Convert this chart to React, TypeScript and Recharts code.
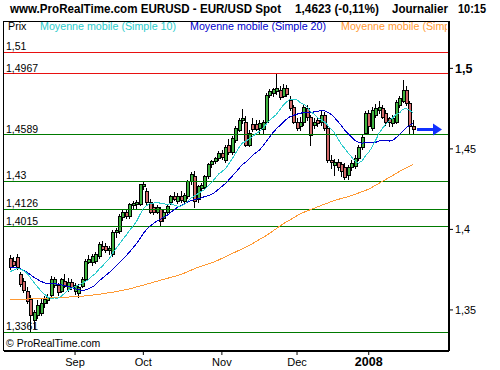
import { ComposedChart, Bar, Line, XAxis, YAxis, ReferenceLine, ReferenceDot } from 'recharts';

const FONT = '"Liberation Sans", Arial, sans-serif';

// closes before the first visible candle (only used to seed the moving averages)
const priorCloses = [
  1.3770, 1.3790, 1.3780, 1.3800, 1.3810, 1.3790, 1.3780, 1.3800, 1.3770, 1.3750,
  1.3690, 1.3660, 1.3700, 1.3720, 1.3740, 1.3760, 1.3770, 1.3790, 1.3785,
];

const opens = [
  1.3823, 1.3805, 1.3830, 1.3725, 1.3678, 1.3620, 1.3565, 1.3440, 1.3470, 1.3480,
  1.3540, 1.3560, 1.3590, 1.3655, 1.3655, 1.3620, 1.3680, 1.3630, 1.3675, 1.3620,
  1.3605, 1.3650, 1.3693, 1.3800, 1.3800, 1.3805, 1.3835, 1.3897, 1.3895, 1.3870,
  1.3847, 1.3983, 1.3990, 1.4076, 1.4107, 1.4082, 1.4150, 1.4160, 1.4156, 1.4270,
  1.4236, 1.4169, 1.4140, 1.4110, 1.4125, 1.4070, 1.4107, 1.4169, 1.4206, 1.4175,
  1.4210, 1.4174, 1.4206, 1.4298, 1.4329, 1.4187, 1.4260, 1.4261, 1.4329, 1.4403,
  1.4422, 1.4446, 1.4477, 1.4434, 1.4527, 1.4483, 1.4557, 1.4619, 1.4681, 1.4668,
  1.4527, 1.4656, 1.4656, 1.4631, 1.4625, 1.4668, 1.4835, 1.4850, 1.4860, 1.4866,
  1.4830, 1.4880, 1.4804, 1.4761, 1.4668, 1.4640, 1.4668, 1.4755, 1.4699, 1.4650,
  1.4680, 1.4668, 1.4712, 1.4631, 1.4434, 1.4400, 1.4420, 1.4403, 1.4390, 1.4340,
  1.4390, 1.4391, 1.4446, 1.4514, 1.4601, 1.4724, 1.4631, 1.4712, 1.4740, 1.4755,
  1.4724, 1.4690, 1.4660, 1.4668, 1.4773, 1.4800, 1.4866, 1.4786, 1.4640,
];

const highs = [
  1.3840, 1.3828, 1.3846, 1.3738, 1.3700, 1.3640, 1.3590, 1.3500, 1.3560, 1.3570,
  1.3585, 1.3600, 1.3710, 1.3705, 1.3665, 1.3700, 1.3720, 1.3700, 1.3690, 1.3670,
  1.3660, 1.3705, 1.3815, 1.3840, 1.3850, 1.3860, 1.3920, 1.3925, 1.3915, 1.3900,
  1.3995, 1.4010, 1.4095, 1.4120, 1.4125, 1.4165, 1.4175, 1.4185, 1.4285, 1.4300,
  1.4260, 1.4190, 1.4160, 1.4150, 1.4140, 1.4125, 1.4160, 1.4215, 1.4230, 1.4225,
  1.4240, 1.4225, 1.4305, 1.4355, 1.4360, 1.4275, 1.4290, 1.4340, 1.4410, 1.4430,
  1.4450, 1.4485, 1.4490, 1.4525, 1.4560, 1.4580, 1.4640, 1.4690, 1.4745, 1.4705,
  1.4615, 1.4690, 1.4680, 1.4680, 1.4680, 1.4845, 1.4870, 1.4880, 1.4967, 1.4890,
  1.4900, 1.4895, 1.4830, 1.4775, 1.4690, 1.4700, 1.4780, 1.4770, 1.4710, 1.4690,
  1.4700, 1.4735, 1.4730, 1.4650, 1.4460, 1.4440, 1.4440, 1.4420, 1.4410, 1.4400,
  1.4430, 1.4460, 1.4525, 1.4590, 1.4735, 1.4740, 1.4760, 1.4780, 1.4800, 1.4775,
  1.4740, 1.4700, 1.4710, 1.4805, 1.4830, 1.4925, 1.4890, 1.4800, 1.4680,
];

const lows = [
  1.3752, 1.3765, 1.3755, 1.3650, 1.3610, 1.3545, 1.3361, 1.3390, 1.3450, 1.3470,
  1.3520, 1.3540, 1.3580, 1.3640, 1.3595, 1.3610, 1.3640, 1.3620, 1.3630, 1.3600,
  1.3580, 1.3640, 1.3685, 1.3790, 1.3780, 1.3790, 1.3820, 1.3870, 1.3860, 1.3850,
  1.3835, 1.3950, 1.3980, 1.4060, 1.4070, 1.4070, 1.4130, 1.4135, 1.4150, 1.4250,
  1.4160, 1.4100, 1.4095, 1.4100, 1.4020, 1.4055, 1.4095, 1.4160, 1.4180, 1.4165,
  1.4170, 1.4165, 1.4195, 1.4285, 1.4138, 1.4170, 1.4240, 1.4250, 1.4320, 1.4390,
  1.4410, 1.4430, 1.4440, 1.4420, 1.4470, 1.4470, 1.4540, 1.4610, 1.4660, 1.4520,
  1.4515, 1.4610, 1.4615, 1.4600, 1.4600, 1.4660, 1.4820, 1.4830, 1.4840, 1.4810,
  1.4820, 1.4830, 1.4740, 1.4660, 1.4620, 1.4620, 1.4650, 1.4680, 1.4527, 1.4630,
  1.4640, 1.4650, 1.4620, 1.4420, 1.4380, 1.4340, 1.4370, 1.4330, 1.4310, 1.4310,
  1.4370, 1.4380, 1.4430, 1.4500, 1.4590, 1.4600, 1.4620, 1.4700, 1.4720, 1.4690,
  1.4650, 1.4640, 1.4640, 1.4660, 1.4760, 1.4790, 1.4770, 1.4600, 1.4590,
];

const closes = [
  1.3767, 1.3782, 1.3765, 1.3662, 1.3622, 1.3558, 1.3470, 1.3490, 1.3530, 1.3540,
  1.3570, 1.3580, 1.3693, 1.3690, 1.3610, 1.3690, 1.3650, 1.3675, 1.3644, 1.3656,
  1.3644, 1.3693, 1.3805, 1.3815, 1.3835, 1.3847, 1.3909, 1.3878, 1.3870, 1.3885,
  1.3983, 1.3995, 1.4082, 1.4107, 1.4085, 1.4156, 1.4165, 1.4170, 1.4280, 1.4285,
  1.4169, 1.4107, 1.4107, 1.4140, 1.4051, 1.4110, 1.4144, 1.4206, 1.4190, 1.4210,
  1.4180, 1.4216, 1.4298, 1.4341, 1.4175, 1.4267, 1.4275, 1.4329, 1.4403, 1.4422,
  1.4446, 1.4477, 1.4450, 1.4514, 1.4483, 1.4570, 1.4631, 1.4681, 1.4690, 1.4527,
  1.4600, 1.4625, 1.4625, 1.4662, 1.4668, 1.4835, 1.4860, 1.4870, 1.4875, 1.4823,
  1.4880, 1.4840, 1.4755, 1.4668, 1.4631, 1.4668, 1.4761, 1.4699, 1.4588, 1.4668,
  1.4660, 1.4712, 1.4631, 1.4434, 1.4416, 1.4420, 1.4390, 1.4360, 1.4323, 1.4390,
  1.4415, 1.4446, 1.4514, 1.4576, 1.4724, 1.4640, 1.4743, 1.4755, 1.4760, 1.4699,
  1.4668, 1.4668, 1.4690, 1.4792, 1.4817, 1.4866, 1.4786, 1.4640, 1.4623,
];

// slow moving average
const slowMaIdx = [0, 5, 10, 15, 20, 25, 30, 35, 40, 45, 50, 55, 60, 65, 70, 75, 80, 85, 90, 95, 100, 105, 110, 115, 118];
const slowMaVals = [
  1.3563, 1.3568, 1.3573, 1.3578, 1.3583, 1.3594, 1.3610, 1.3631, 1.3660, 1.3690,
  1.3720, 1.3765, 1.3800, 1.3850, 1.3900, 1.3962, 1.4035, 1.4098, 1.4140, 1.4180,
  1.4210, 1.4250, 1.4310, 1.4372, 1.4403,
];

const monthTicks = [19, 39, 62, 84, 105];
const monthLabels = ['Sep', 'Oct', 'Nov', 'Dec', '2008'];
const priceTicks = [1.35, 1.4, 1.45, 1.5];
const redLevels = [1.51, 1.4967];
const greenLevels = [1.4589, 1.43, 1.4126, 1.4015, 1.3361];
const quoteChange = '-0,11%';

const UP = '#3fb43f';
const DOWN = '#d26a6a';
const MA10 = '#2ccccc';
const MA20 = '#0000cc';
const MA_SLOW = '#ff9933';

const fmt = (v: number) => String(v).replace('.', ',');

const allCloses = [...priorCloses, ...closes];
const sma = (n: number, i: number) => {
  let s = 0;
  for (let k = 0; k < n; k++) s += allCloses[priorCloses.length + i - k];
  return s / n;
};

const data = closes.map((c, i) => {
  const j = slowMaIdx.indexOf(i);
  return {
    i,
    open: opens[i],
    high: highs[i],
    low: lows[i],
    close: c,
    ma10: sma(10, i),
    ma20: sma(20, i),
    maSlow: j >= 0 ? slowMaVals[j] : undefined,
  };
});

const lastIdx = closes.length - 1;
const lastClose = closes[lastIdx];

// body is 4px wide: 1px black edge, 2px colour, 1px black edge
const Candle = (props: any) => {
  const { x, y, width, height, payload } = props;
  if (x == null || payload == null) return null;
  const top = Math.min(y, y + height);
  const h = Math.abs(height);
  const { open, close, high, low } = payload;
  const k = high > low ? h / (high - low) : 0;
  const cx = Math.floor(x + width / 2);
  const yO = top + (high - open) * k;
  const yC = top + (high - close) * k;
  const bt = Math.round(Math.min(yO, yC));
  const bb = Math.max(Math.round(Math.max(yO, yC)), bt + 1);
  const up = close >= open;
  return (
    <g>
      <rect x={cx} y={Math.round(top)} width={1} height={Math.round(top + h) - Math.round(top) + 1} fill="#000" />
      <rect x={cx - 1} y={bt} width={4} height={bb - bt + 1} fill="#000" />
      {bb - bt > 1 && <rect x={cx} y={bt + 1} width={2} height={bb - bt - 1} fill={up ? UP : DOWN} />}
    </g>
  );
};

const QuoteArrow = (props: any) => {
  const { cx, cy } = props;
  if (cx == null) return null;
  const x0 = Math.round(cx) + 4;
  const yc = Math.round(cy);
  return (
    <g>
      <rect x={x0} y={yc - 1} width={17} height={3} fill="#1030ff" />
      <polygon points={`${x0 + 16},${yc - 5.5} ${x0 + 25},${yc + 0.5} ${x0 + 16},${yc + 6.5}`} fill="#1030ff" />
    </g>
  );
};

const PriceTick = (props: any) => {
  const { x, y, payload } = props;
  const bold = payload.value === 1.5;
  return (
    <text x={x} y={y} dy={bold ? 4.5 : 4} fontSize={bold ? 12.5 : 10.8} fontWeight={bold ? 'bold' : 'normal'} fontFamily={FONT} fill="#000">
      {fmt(payload.value)}
    </text>
  );
};

const MonthTick = (props: any) => {
  const { x, y, payload } = props;
  const label = monthLabels[monthTicks.indexOf(payload.value)];
  const bold = label === '2008';
  return (
    <text x={x} y={y} dy={11} textAnchor="middle" fontSize={bold ? 12.5 : 11} fontWeight={bold ? 'bold' : 'normal'} fontFamily={FONT} fill="#000">
      {label}
    </text>
  );
};

const levelLabel = (v: number) => ({
  value: fmt(v),
  position: 'insideBottomLeft' as const,
  offset: 2,
  fill: '#000',
  fontSize: 10.5,
  fontFamily: FONT,
});

export default function App() {
  return (
    <div style={{ position: 'absolute', left: 0, top: 0, width: 500, height: 370, background: '#fff' }}>
      <ComposedChart width={500} height={370} data={data} margin={{ top: 21, right: 0, bottom: 0, left: 4 }}>
        <XAxis
          dataKey="i"
          type="number"
          domain={[-1.8, 128.5]}
          ticks={monthTicks}
          allowDataOverflow
          height={19}
          tickSize={4}
          tickMargin={0}
          axisLine={{ stroke: '#000', strokeWidth: 2 }}
          tickLine={{ stroke: '#000' }}
          tick={<MonthTick />}
        />
        <YAxis
          orientation="right"
          type="number"
          domain={[1.3245, 1.5294]}
          ticks={priceTicks}
          allowDataOverflow
          width={51}
          tickSize={4}
          tickMargin={2}
          axisLine={{ stroke: '#000', strokeWidth: 2 }}
          tickLine={{ stroke: '#000' }}
          tick={<PriceTick />}
        />
        {redLevels.map((v) => (
          <ReferenceLine key={v} y={v} stroke="#e81010" strokeWidth={1} shapeRendering="crispEdges" label={levelLabel(v)} />
        ))}
        {greenLevels.map((v) => (
          <ReferenceLine key={v} y={v} stroke="#007a00" strokeWidth={1} shapeRendering="crispEdges" label={levelLabel(v)} />
        ))}
        <Bar dataKey={(d: any) => [d.low, d.high]} shape={<Candle />} isAnimationActive={false} />
        <Line dataKey="maSlow" stroke={MA_SLOW} strokeWidth={1} dot={false} connectNulls shapeRendering="crispEdges" isAnimationActive={false} />
        <Line dataKey="ma20" stroke={MA20} strokeWidth={1} dot={false} shapeRendering="crispEdges" isAnimationActive={false} />
        <Line dataKey="ma10" stroke={MA10} strokeWidth={1} dot={false} shapeRendering="crispEdges" isAnimationActive={false} />
        <ReferenceDot x={lastIdx} y={lastClose} r={0} shape={<QuoteArrow />} />
      </ComposedChart>

      <svg width={500} height={370} style={{ position: 'absolute', left: 0, top: 0, pointerEvents: 'none' }}>
        <defs>
          <clipPath id="legendClip">
            <rect x={0} y={0} width={447} height={40} />
          </clipPath>
        </defs>
        <g fontFamily={FONT} fontWeight="bold" fontSize={12} fill="#000">
          <text x={10} y={13} textLength={271} lengthAdjust="spacingAndGlyphs">www.ProRealTime.com EURUSD - EUR/USD Spot</text>
          <text x={295} y={13} textLength={84} lengthAdjust="spacingAndGlyphs">{`${fmt(lastClose)} (${quoteChange})`}</text>
          <text x={392} y={13} textLength={56} lengthAdjust="spacingAndGlyphs">Journalier</text>
          <text x={458} y={13} textLength={28} lengthAdjust="spacingAndGlyphs">10:15</text>
        </g>
        <line x1={3} x2={449} y1={21.5} y2={21.5} stroke="#000" />
        <line x1={3.5} x2={3.5} y1={21} y2={351} stroke="#000" />
        <g fontFamily={FONT} fontSize={10.7} clipPath="url(#legendClip)">
          <text x={8} y={29.5} fill="#000">Prix</text>
          <text x={40} y={29.5} fill={MA10}>Moyenne mobile (Simple 10)</text>
          <text x={190} y={29.5} fill={MA20}>Moyenne mobile (Simple 20)</text>
          <text x={341} y={29.5} fill={MA_SLOW}>Moyenne mobile (Simple 100)</text>
        </g>
        <text x={6} y={347} fontFamily={FONT} fontSize={10.5} fill="#000">© ProRealTime.com</text>
      </svg>
    </div>
  );
}
